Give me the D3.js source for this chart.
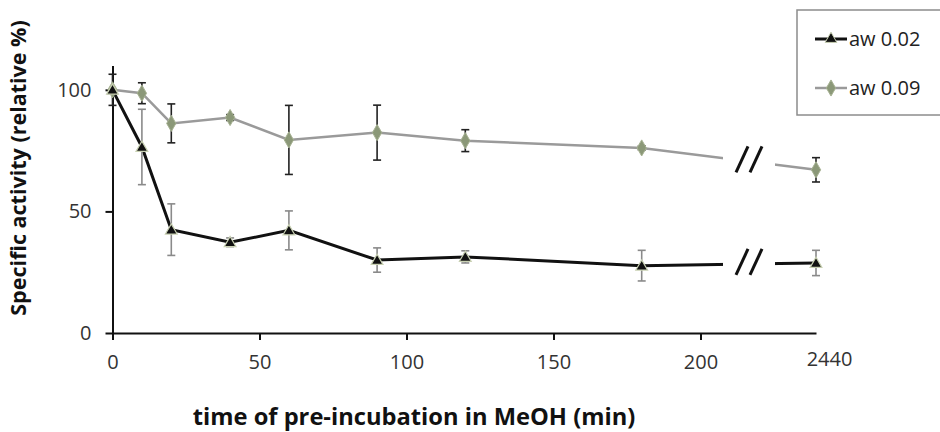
<!DOCTYPE html>
<html>
<head>
<meta charset="utf-8">
<script src="https://cdn.jsdelivr.net/npm/d3@7"></script>
<style>
  body { margin: 0; background: #fff; }
  svg { display: block; }
</style>
</head>
<body>
<svg id="chart" width="940" height="432"></svg>
<script>
// ---- data ----
const times = [0, 10, 20, 40, 60, 90, 120, 180, 2440];
const aw002 = [100, 76.5, 42.5, 37.3, 42.2, 30.0, 31.3, 27.7, 28.8];
const aw002Err = [0, 15.5, 10.6, 1.8, 8.0, 5.0, 2.5, 6.3, 5.2];
const aw009 = [100, 98.6, 86.2, 88.6, 79.4, 82.4, 79.1, 76.1, 67.1];
const aw009Err = [6.4, 4.3, 8.0, 1.2, 14.2, 11.3, 4.5, 0.8, 5.0];
const xTicks = [0, 50, 100, 150, 200, 2440];
const yTicks = [0, 50, 100];
const seriesNames = ["aw 0.02", "aw 0.09"];

const svg = d3.select("#chart");
const font = "'Open Sans', 'DejaVu Sans', sans-serif";

const x = d3.scaleLinear().domain([0, 200, 2440]).range([112.5, 700.5, 816]);
const y = d3.scaleLinear().domain([0, 110]).range([333, 65.5]);

// axes
const xAxis = svg.append("g").attr("transform", `translate(0,${y(0)})`)
  .call(d3.axisBottom(x).tickValues(xTicks).tickFormat(d3.format("d")).tickSize(7).tickSizeOuter(0).tickPadding(15));
xAxis.selectAll(".tick").filter(d => d === 2440).select("line").remove();
xAxis.selectAll(".tick").filter(d => d === 2440).select("text").attr("dx", 13).attr("dy", "0.55em");

const yAxis = svg.append("g").attr("transform", `translate(${x(0)},0)`)
  .call(d3.axisLeft(y).tickValues(yTicks).tickSize(7).tickSizeOuter(0).tickPadding(14));

[xAxis, yAxis].forEach(g => {
  g.select(".domain").attr("stroke", "#111").attr("stroke-width", 2);
  g.selectAll(".tick line").attr("stroke", "#111").attr("stroke-width", 2);
  g.selectAll(".tick text").attr("fill", "#333").style("font-family", font).style("font-size", "20px");
});

// series
const mk = (vals, errs) => times.map((t, i) => ({ t, v: vals[i], e: errs[i] }));
const s1 = mk(aw002, aw002Err);
const s2 = mk(aw009, aw009Err);

const line = d3.line().x(d => x(d.t)).y(d => y(d.v));

function drawErr(data, color, w) {
  const g = svg.append("g");
  data.filter(d => d.e > 0).forEach(d => {
    const cx = x(d.t), y1 = y(d.v + d.e), y2 = y(d.v - d.e);
    g.append("line").attr("x1", cx).attr("x2", cx).attr("y1", y1).attr("y2", y2).attr("stroke", color).attr("stroke-width", w);
    [y1, y2].forEach(yy => g.append("line").attr("x1", cx - 4).attr("x2", cx + 4).attr("y1", yy).attr("y2", yy).attr("stroke", color).attr("stroke-width", w));
  });
}

// lines
svg.append("path").datum(s2).attr("d", line).attr("fill", "none").attr("stroke", "#9a9a9a").attr("stroke-width", 2.5);
svg.append("path").datum(s1).attr("d", line).attr("fill", "none").attr("stroke", "#111").attr("stroke-width", 3);

// axis break gap
const gapL = x(2440) - 93, gapR = x(2440) - 41;
svg.append("rect").attr("x", gapL).attr("y", y(110)).attr("width", gapR - gapL).attr("height", y(0) - y(110) - 2).attr("fill", "#fff");

function lineYAt(data, px) {
  const a = data[data.length - 2], b = data[data.length - 1];
  const xa = x(a.t), xb = x(b.t);
  return y(a.v) + (y(b.v) - y(a.v)) * (px - xa) / (xb - xa);
}
const gapC = (gapL + gapR) / 2;
[s1, s2].forEach(data => {
  const cy = lineYAt(data, gapC) - 2;
  [-7, 7].forEach(off => {
    svg.append("line").attr("x1", gapC + off - 6).attr("y1", cy + 13).attr("x2", gapC + off + 6).attr("y2", cy - 13)
      .attr("stroke", "#111").attr("stroke-width", 3);
  });
});

drawErr(s2, "#222", 1.6);
drawErr(s1, "#8a8a8a", 1.6);

const tri = d3.symbol().type(d3.symbolTriangle).size(60);
const dia = d3.symbol().type(d3.symbolDiamond).size(75);

svg.append("g").selectAll("path").data(s2).join("path")
  .attr("transform", d => `translate(${x(d.t)},${y(d.v)})`).attr("d", dia)
  .attr("fill", "#8b9878").attr("stroke", "#a7b293").attr("stroke-width", 1);
svg.append("g").selectAll("path").data(s1).join("path")
  .attr("transform", d => `translate(${x(d.t)},${y(d.v) + 1})`).attr("d", tri)
  .attr("fill", "#111").attr("stroke", "#c9d1b3").attr("stroke-width", 1.2);

// titles
svg.append("text").attr("x", 414).attr("y", 425).attr("text-anchor", "middle")
  .style("font-family", font).style("font-size", "23.7px").style("font-weight", "bold").attr("fill", "#111")
  .text("time of pre-incubation in MeOH (min)");
svg.append("text").attr("transform", "translate(26,168) rotate(-90)").attr("text-anchor", "middle")
  .style("font-family", font).style("font-size", "21.5px").style("font-weight", "bold").attr("fill", "#111")
  .text("Specific activity (relative %)");

// legend
const lg = svg.append("g");
lg.append("rect").attr("x", 797).attr("y", 10).attr("width", 200).attr("height", 105)
  .attr("fill", "#fff").attr("stroke", "#8c8c8c").attr("stroke-width", 1.5);
const legY = [39, 88];
lg.append("line").attr("x1", 815).attr("x2", 847).attr("y1", legY[0]).attr("y2", legY[0]).attr("stroke", "#111").attr("stroke-width", 3);
lg.append("path").attr("transform", `translate(831,${legY[0]})`).attr("d", tri).attr("fill", "#111").attr("stroke", "#c9d1b3").attr("stroke-width", 1);
lg.append("line").attr("x1", 815).attr("x2", 847).attr("y1", legY[1]).attr("y2", legY[1]).attr("stroke", "#9a9a9a").attr("stroke-width", 2.5);
lg.append("path").attr("transform", `translate(831,${legY[1]})`).attr("d", dia).attr("fill", "#8b9878").attr("stroke", "#a7b293").attr("stroke-width", 1);
seriesNames.forEach((n, i) => {
  lg.append("text").attr("x", 849).attr("y", legY[i]).attr("dy", "0.35em")
    .style("font-family", font).style("font-size", "20px").attr("fill", "#222").text(n);
});
</script>
</body>
</html>
